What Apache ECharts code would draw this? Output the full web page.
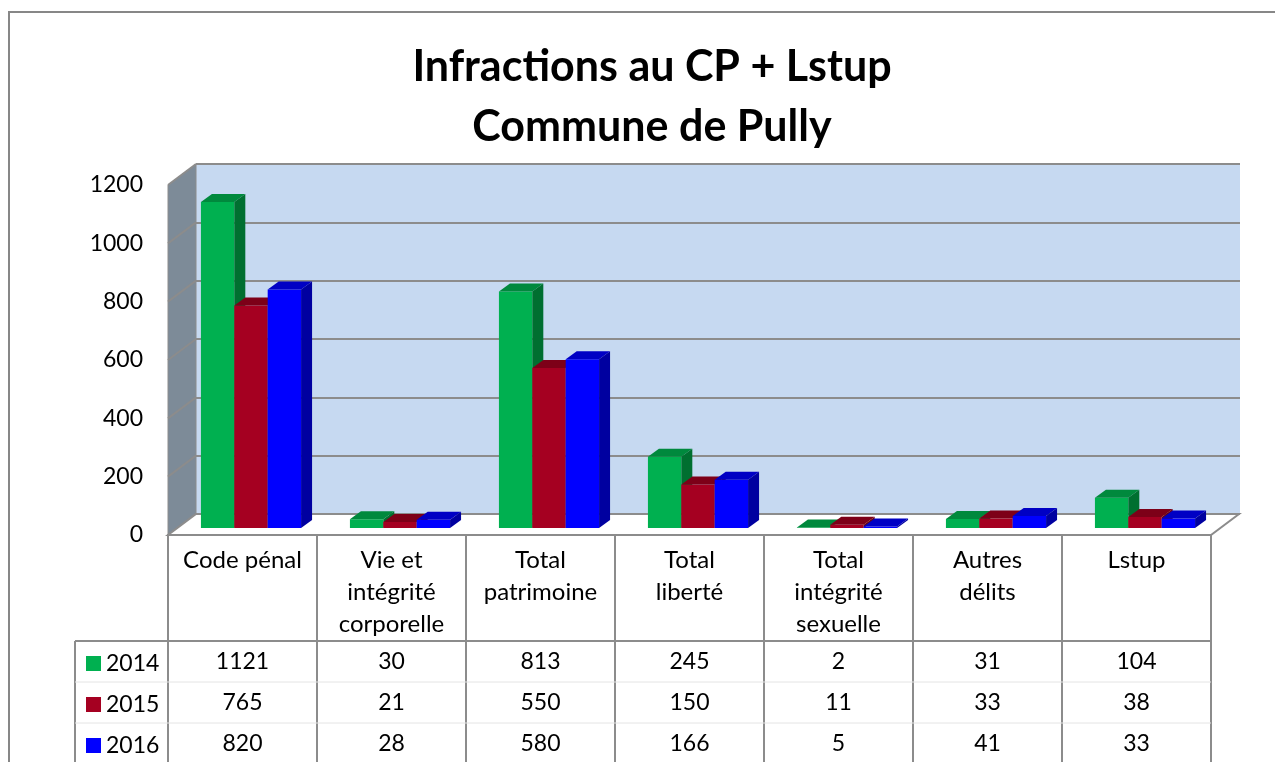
<!DOCTYPE html>
<html>
<head>
<meta charset="utf-8">
<title>Infractions au CP + Lstup - Pully</title>
<script src="https://cdn.jsdelivr.net/npm/echarts@6/dist/echarts.min.js"></script>
<style>
  html, body { margin: 0; padding: 0; background: #fff; }
  #chart { width: 1275px; height: 762px; }
</style>
</head>
<body>
<div id="chart"></div>
<script>
'use strict';

var categories = ['Code pénal', 'Vie et\nintégrité\ncorporelle', 'Total\npatrimoine', 'Total\nliberté',
    'Total\nintégrité\nsexuelle', 'Autres\ndélits', 'Lstup'];
var years = ['2014', '2015', '2016'];
var values2014 = [1121, 30, 813, 245, 2, 31, 104];
var values2015 = [765, 21, 550, 150, 11, 33, 38];
var values2016 = [820, 28, 580, 166, 5, 41, 33];
var yMin = 0, yMax = 1200, yStep = 200;

var FONT = 'Lato, "Liberation Sans", sans-serif';
var GRID_LINE = '#8c8c8c';
// front face, top face, side face
var palette = [
    ['#00b050', '#00893d', '#006f30'],
    ['#a50021', '#7d0018', '#6a0014'],
    ['#0000ff', '#0000c4', '#0000a0']
];
var WALL_DX = 28, WALL_DY = -21;   // depth of the walls / floor
var BAR_DX = 11, BAR_DY = -8;      // depth of each bar
var ROW_H = 41;

var chart = echarts.init(document.getElementById('chart'));

// one 3D-looking column per value
function barRenderer(slot) {
    return function(params, api) {
        var cat = api.value(0);
        var val = api.value(1);
        var base = api.coord([cat, 0]);
        var top = api.coord([cat, val]);
        var w = api.size([1, 0])[0] * 0.224;
        var x0 = base[0] - 1.5 * w + slot * w;
        var x1 = x0 + w;
        var c = palette[slot];
        return {
            type: 'group',
            children: [
                { type: 'rect', shape: { x: x0, y: top[1], width: w, height: base[1] - top[1] },
                  style: { fill: c[0] } },
                { type: 'polygon', shape: { points: [[x0, top[1]], [x1, top[1]], [x1 + BAR_DX, top[1] + BAR_DY], [x0 + BAR_DX, top[1] + BAR_DY]] },
                  style: { fill: c[1] } },
                { type: 'polygon', shape: { points: [[x1, top[1]], [x1 + BAR_DX, top[1] + BAR_DY], [x1 + BAR_DX, base[1] + BAR_DY], [x1, base[1]]] },
                  style: { fill: c[2] } }
            ]
        };
    };
}

// side wall, floor and table lines
function decorRenderer(params, api) {
    var cs = params.coordSys;
    var left = cs.x, right = cs.x + cs.width, bottom = cs.y + cs.height, topY = cs.y;
    var children = [];
    children.push({ type: 'polygon',
        shape: { points: [[left, bottom], [left, topY], [left + WALL_DX, topY + WALL_DY], [left + WALL_DX, bottom + WALL_DY]] },
        style: { fill: '#7d8b98', stroke: GRID_LINE, lineWidth: 1 } });
    for (var v = yMin; v <= yMax; v += yStep) {
        var y = api.coord([0, v])[1];
        children.push({ type: 'line', shape: { x1: left, y1: y, x2: left + WALL_DX, y2: y + WALL_DY },
            style: { stroke: GRID_LINE, lineWidth: 2 } });
    }
    children.push({ type: 'polygon',
        shape: { points: [[left, bottom], [right, bottom], [right + WALL_DX, bottom + WALL_DY], [left + WALL_DX, bottom + WALL_DY]] },
        style: { fill: '#ffffff', stroke: GRID_LINE, lineWidth: 2 } });
    var rowTop = bottom + 106;
    children.push({ type: 'line', shape: { x1: 75, y1: rowTop, x2: right, y2: rowTop },
        style: { stroke: GRID_LINE, lineWidth: 2 } });
    children.push({ type: 'line', shape: { x1: 75, y1: rowTop, x2: 75, y2: 800 },
        style: { stroke: GRID_LINE, lineWidth: 2 } });
    for (var r = 1; r < years.length; r++) {
        children.push({ type: 'line', shape: { x1: 75, y1: rowTop + r * ROW_H, x2: right, y2: rowTop + r * ROW_H },
            style: { stroke: '#e4e4e4', lineWidth: 1 } });
    }
    return { type: 'group', children: children };
}

// values of the data table
var tableData = [];
[values2014, values2015, values2016].forEach(function(arr, row) {
    arr.forEach(function(v, i) { tableData.push([i, row, v]); });
});
function tableRenderer(params, api) {
    var pt = api.coord([api.value(0), 0]);
    return {
        type: 'text',
        style: {
            text: String(api.value(2)),
            x: pt[0], y: pt[1] + 127 + api.value(1) * ROW_H,
            align: 'center', verticalAlign: 'middle',
            font: '23px ' + FONT, fill: '#000'
        }
    };
}

// one legend per row of the table
var legends = years.map(function(y, i) {
    return {
        data: [y], left: 86, top: 652 + i * ROW_H, padding: 0,
        itemWidth: 15, itemHeight: 15, itemGap: 0, icon: 'rect',
        textStyle: { fontFamily: FONT, fontSize: 23, color: '#000' }
    };
});

var option = {
    animation: false,
    backgroundColor: '#fff',
    title: {
        text: 'Infractions au CP + Lstup\nCommune de Pully',
        left: 647, top: 32, textAlign: 'center',
        textStyle: { fontFamily: FONT, fontSize: 43, fontWeight: 'bold', color: '#000', lineHeight: 60 }
    },
    graphic: [{
        type: 'rect', shape: { x: 9, y: 12, width: 1300, height: 800 },
        style: { fill: 'none', stroke: '#878787', lineWidth: 2 }, z: 100
    }],
    legend: legends,
    grid: [
        { left: 196, top: 164, width: 1044, height: 350, show: true, backgroundColor: '#c6d9f1', borderWidth: 0 },
        { left: 168, top: 185, width: 1043, height: 350 },
        { left: 176.5, top: 179, width: 1043, height: 349 }
    ],
    xAxis: [
        { type: 'category', gridIndex: 0, data: categories, show: false },
        { type: 'category', gridIndex: 1, data: categories,
          axisLine: { lineStyle: { color: GRID_LINE, width: 2 } },
          axisTick: { show: true, length: 240, lineStyle: { color: GRID_LINE, width: 2 } },
          axisLabel: { margin: 9, fontFamily: FONT, fontSize: 24, lineHeight: 32, color: '#000', interval: 0 } },
        { type: 'category', gridIndex: 2, data: categories, show: false }
    ],
    yAxis: [
        { type: 'value', gridIndex: 0, min: yMin, max: yMax, interval: yStep,
          axisLabel: { show: false }, axisLine: { show: false }, axisTick: { show: false },
          splitLine: { lineStyle: { color: GRID_LINE, width: 2 } } },
        { type: 'value', gridIndex: 1, min: yMin, max: yMax, interval: yStep,
          axisLine: { show: false }, axisTick: { show: false }, splitLine: { show: false },
          axisLabel: { margin: 25, fontFamily: FONT, fontSize: 23, color: '#000',
                       formatter: function(v) { return String(v); } } },
        { type: 'value', gridIndex: 2, min: yMin, max: yMax, show: false, splitLine: { show: false } }
    ],
    series: [
        { type: 'custom', name: 'decor', xAxisIndex: 1, yAxisIndex: 1, data: [[0, 0]], z: 1,
          renderItem: decorRenderer, silent: true },
        { type: 'custom', name: 'table', xAxisIndex: 1, yAxisIndex: 1, data: tableData, z: 2,
          encode: { x: 0, y: 1 }, renderItem: tableRenderer, silent: true },
        { type: 'custom', name: years[0], xAxisIndex: 2, yAxisIndex: 2, z: 3,
          itemStyle: { color: palette[0][0] }, renderItem: barRenderer(0),
          data: values2014.map(function(v, i) { return [i, v]; }) },
        { type: 'custom', name: years[1], xAxisIndex: 2, yAxisIndex: 2, z: 3,
          itemStyle: { color: palette[1][0] }, renderItem: barRenderer(1),
          data: values2015.map(function(v, i) { return [i, v]; }) },
        { type: 'custom', name: years[2], xAxisIndex: 2, yAxisIndex: 2, z: 3,
          itemStyle: { color: palette[2][0] }, renderItem: barRenderer(2),
          data: values2016.map(function(v, i) { return [i, v]; }) }
    ]
};

chart.setOption(option);
</script>
</body>
</html>
